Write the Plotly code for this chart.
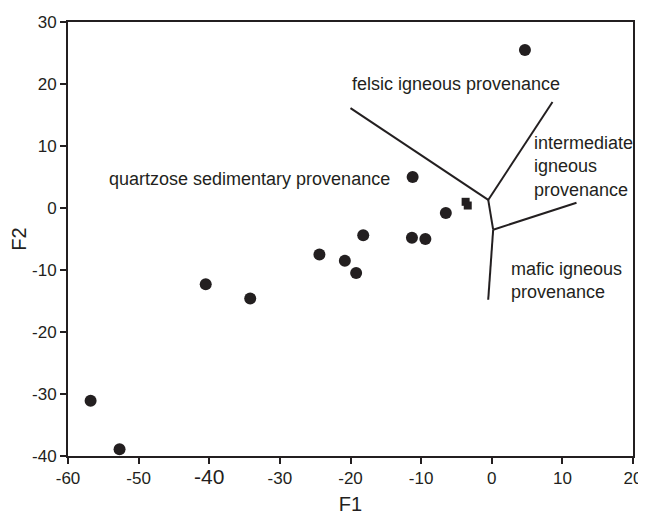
import plotly.graph_objects as go

# Sample scores (circles)
f1_circles = [4.7, -11.2, -6.5, -11.3, -9.4, -18.2, -24.4, -20.8, -19.2, -40.5, -34.2, -56.8, -52.7]
f2_circles = [25.5, 5.0, -0.8, -4.8, -5.0, -4.4, -7.5, -8.5, -10.5, -12.3, -14.6, -31.1, -38.9]
# Sample scores (squares)
f1_squares = [-3.7, -3.4]
f2_squares = [1.0, 0.4]

# Field boundaries (segments)
boundary_segments = [
    ([-20.0, -0.5], [16.1, 1.3]),
    ([8.6, -0.5], [17.1, 1.3]),
    ([-0.5, 0.2], [1.3, -3.5]),
    ([0.2, 12.0], [-3.5, 0.85]),
    ([0.2, -0.5], [-3.5, -14.8]),
]

# Field labels
labels = [
    ("felsic igneous provenance", -5.0, 20.0, "center"),
    ("intermediate<br>igneous<br>provenance", 5.7, 6.7, "left"),
    ("mafic igneous<br>provenance", 2.5, -11.7, "left"),
    ("quartzose sedimentary provenance", -14.1, 4.6, "right"),
]

x_ticks = [-60, -50, -40, -30, -20, -10, 0, 10, 20]
x_ticktext = ["-60", "-50", "<span style='font-size:21px'>-40</span>", "-30", "-20", "-10", "0", "10", "20"]
y_ticks = [30, 20, 10, 0, -10, -20, -30, -40]
y_ticktext = ["30", "20", "10", "0", "-10", "-20", "-30", "-40"]

ink = "#231f20"
fam = "Liberation Sans, Arial"
fig = go.Figure()
for xs, ys in boundary_segments:
    fig.add_trace(go.Scatter(x=xs, y=ys, mode="lines", line=dict(color=ink, width=2),
                             showlegend=False, hoverinfo="skip"))
fig.add_trace(go.Scatter(x=f1_circles, y=f2_circles, mode="markers",
                         marker=dict(symbol="circle", size=12, color=ink), showlegend=False))
fig.add_trace(go.Scatter(x=f1_squares, y=f2_squares, mode="markers",
                         marker=dict(symbol="square", size=8, color=ink), showlegend=False))

for text, x, y, align in labels:
    fig.add_annotation(x=x, y=y, text=text, showarrow=False, xanchor=align, yanchor="middle",
                       align=align, font=dict(size=18, color=ink, family=fam))

axis_common = dict(showgrid=False, zeroline=False, showline=True, linecolor=ink, linewidth=2,
                   mirror=True, ticks="outside", ticklen=6, tickwidth=2, tickcolor=ink,
                   automargin=False, tickfont=dict(size=17, color=ink, family=fam))
fig.update_xaxes(range=[-60, 20], tickvals=x_ticks, ticktext=x_ticktext,
                 title=dict(text="F1", font=dict(size=20, color=ink, family=fam), standoff=12), **axis_common)
fig.update_yaxes(range=[-40, 30], tickvals=y_ticks, ticktext=y_ticktext,
                 title=dict(text="F2", font=dict(size=20, color=ink, family=fam), standoff=16), **axis_common)
# the page body adds an 8px margin, so size and margins place the frame where the reference has it
fig.update_layout(template="none", width=638, height=507, margin=dict(l=60, r=13, t=14, b=59),
                  plot_bgcolor="white", paper_bgcolor="white",
                  font=dict(family=fam, color=ink))
fig.write_html("out.html")
